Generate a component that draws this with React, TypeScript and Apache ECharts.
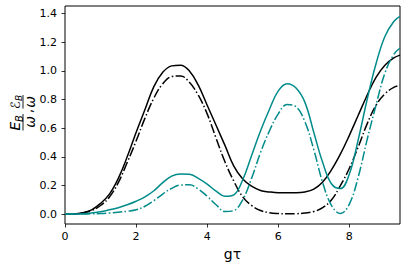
import React, { useEffect, useRef } from "react";
import * as echarts from "echarts";

const xs = [0, 0.25, 0.5, 0.75, 1.0, 1.25, 1.5, 1.75, 2.0, 2.25, 2.5, 2.75, 3.0, 3.25, 3.5, 3.75, 4.0, 4.25, 4.5, 4.75, 5.0, 5.25, 5.5, 5.75, 6.0, 6.25, 6.5, 6.75, 7.0, 7.25, 7.5, 7.75, 8.0, 8.25, 8.5, 8.75, 9.0, 9.25, 9.4248];

const blackSolid = [0, 0.001, 0.01, 0.03, 0.075, 0.14, 0.25, 0.4, 0.57, 0.73, 0.89, 0.99, 1.035, 1.04, 1.0, 0.9, 0.76, 0.62, 0.48, 0.335, 0.245, 0.195, 0.165, 0.155, 0.15, 0.15, 0.15, 0.155, 0.175, 0.225, 0.31, 0.42, 0.55, 0.69, 0.83, 0.955, 1.04, 1.09, 1.11];

const blackDash = [0, 0.001, 0.008, 0.025, 0.06, 0.12, 0.22, 0.36, 0.51, 0.67, 0.81, 0.91, 0.96, 0.965, 0.92, 0.83, 0.7, 0.53, 0.365, 0.23, 0.12, 0.06, 0.025, 0.01, 0.004, 0.002, 0.003, 0.008, 0.018, 0.045, 0.1, 0.2, 0.32, 0.47, 0.63, 0.76, 0.84, 0.885, 0.898];

const tealSolid = [0, 0.001, 0.003, 0.008, 0.016, 0.03, 0.045, 0.065, 0.09, 0.12, 0.163, 0.22, 0.265, 0.28, 0.278, 0.25, 0.21, 0.16, 0.125, 0.135, 0.24, 0.41, 0.58, 0.73, 0.86, 0.91, 0.88, 0.78, 0.57, 0.36, 0.21, 0.178, 0.28, 0.52, 0.8, 1.05, 1.24, 1.345, 1.38];

const tealDash = [0, 0, 0.001, 0.002, 0.004, 0.008, 0.013, 0.02, 0.03, 0.055, 0.095, 0.14, 0.18, 0.203, 0.205, 0.175, 0.125, 0.065, 0.018, 0.025, 0.1, 0.25, 0.43, 0.58, 0.7, 0.765, 0.75, 0.645, 0.45, 0.22, 0.06, 0.004, 0.07, 0.26, 0.52, 0.76, 0.985, 1.115, 1.16];

const xTicks = [0, 2, 4, 6, 8];
const yTicks = [0, 0.2, 0.4, 0.6, 0.8, 1.0, 1.2, 1.4];

const BLACK = "#000000";
const TEAL = "#008B8B";
const FONT = "DejaVu Sans";
const DASHDOT = [9.6, 2.4, 1.5, 2.4];

function pairs(ys: number[]) {
  return xs.map((x, i) => [x, ys[i]]);
}

export default function App() {
  const ref = useRef<HTMLDivElement>(null);
  useEffect(() => {
    if (!ref.current) return;
    const chart = echarts.init(ref.current, null, { renderer: "svg" });
    const mk = (name: string, ys: number[], color: string, dashed: boolean) => ({
      name,
      type: "line",
      data: pairs(ys),
      showSymbol: false,
      smooth: 0.4,
      lineStyle: { color, width: 1.5, type: dashed ? DASHDOT : "solid" },
      z: 3,
    });
    const txt = (t: string, x: number, y: number, size: number, italic = true) => ({
      type: "text",
      x,
      y,
      style: {
        text: t,
        fontSize: size,
        fontFamily: FONT,
        fontStyle: italic ? "italic" : "normal",
        fill: "#000",
        align: "center",
        verticalAlign: "middle",
      },
    });
    chart.setOption({
      animation: false,
      grid: {
        left: 65,
        top: 6,
        width: 335,
        height: 218,
        show: true,
        borderColor: "#000",
        borderWidth: 1,
        backgroundColor: "transparent",
      },
      xAxis: {
        type: "value",
        min: 0,
        max: 9.4248,
        name: "gτ",
        nameLocation: "middle",
        nameGap: 18,
        nameTextStyle: { fontFamily: FONT, fontSize: 14, color: "#000" },
        axisLine: { show: false, onZero: false },
        axisTick: { show: true, length: 3.5, inside: false, customValues: xTicks, lineStyle: { color: "#000", width: 0.8 } },
        axisLabel: { customValues: xTicks, margin: 7, fontFamily: FONT, fontSize: 11, color: "#000", formatter: (v: number) => String(v) },
        splitLine: { show: false },
      },
      yAxis: {
        type: "value",
        min: -0.069,
        max: 1.453,
        axisLine: { show: false, onZero: false },
        axisTick: { show: true, length: 3.5, inside: false, customValues: yTicks, lineStyle: { color: "#000", width: 0.8 } },
        axisLabel: { customValues: yTicks, margin: 8, fontFamily: FONT, fontSize: 11, color: "#000", formatter: (v: number) => v.toFixed(1) },
        splitLine: { show: false },
      },
      series: [
        mk("E_B solid", blackSolid, BLACK, false),
        mk("eps_B dash", blackDash, BLACK, true),
        mk("teal solid", tealSolid, TEAL, false),
        mk("teal dash", tealDash, TEAL, true),
      ],
      graphic: [
        {
          type: "group",
          x: 23,
          y: 113,
          rotation: Math.PI / 2,
          children: [
            txt("E", -13, -8, 14),
            txt("B", -5.5, -4, 10),
            { type: "line", shape: { x1: -17.5, y1: 0, x2: -1, y2: 0 }, style: { stroke: "#000", lineWidth: 0.9 } },
            txt("ω", -9, 6.5, 14),
            txt(",", 2, 4, 14, false),
            txt("ℰ", 8, -8, 13),
            txt("B", 15, -4, 9),
            { type: "line", shape: { x1: 4.5, y1: 0, x2: 18, y2: 0 }, style: { stroke: "#000", lineWidth: 0.9 } },
            txt("ω", 11, 6.5, 14),
          ],
        },
      ],
    });
    return () => chart.dispose();
  }, []);
  return <div ref={ref} style={{ position: "absolute", left: 0, top: 0, width: 406, height: 267 }} />;
}
